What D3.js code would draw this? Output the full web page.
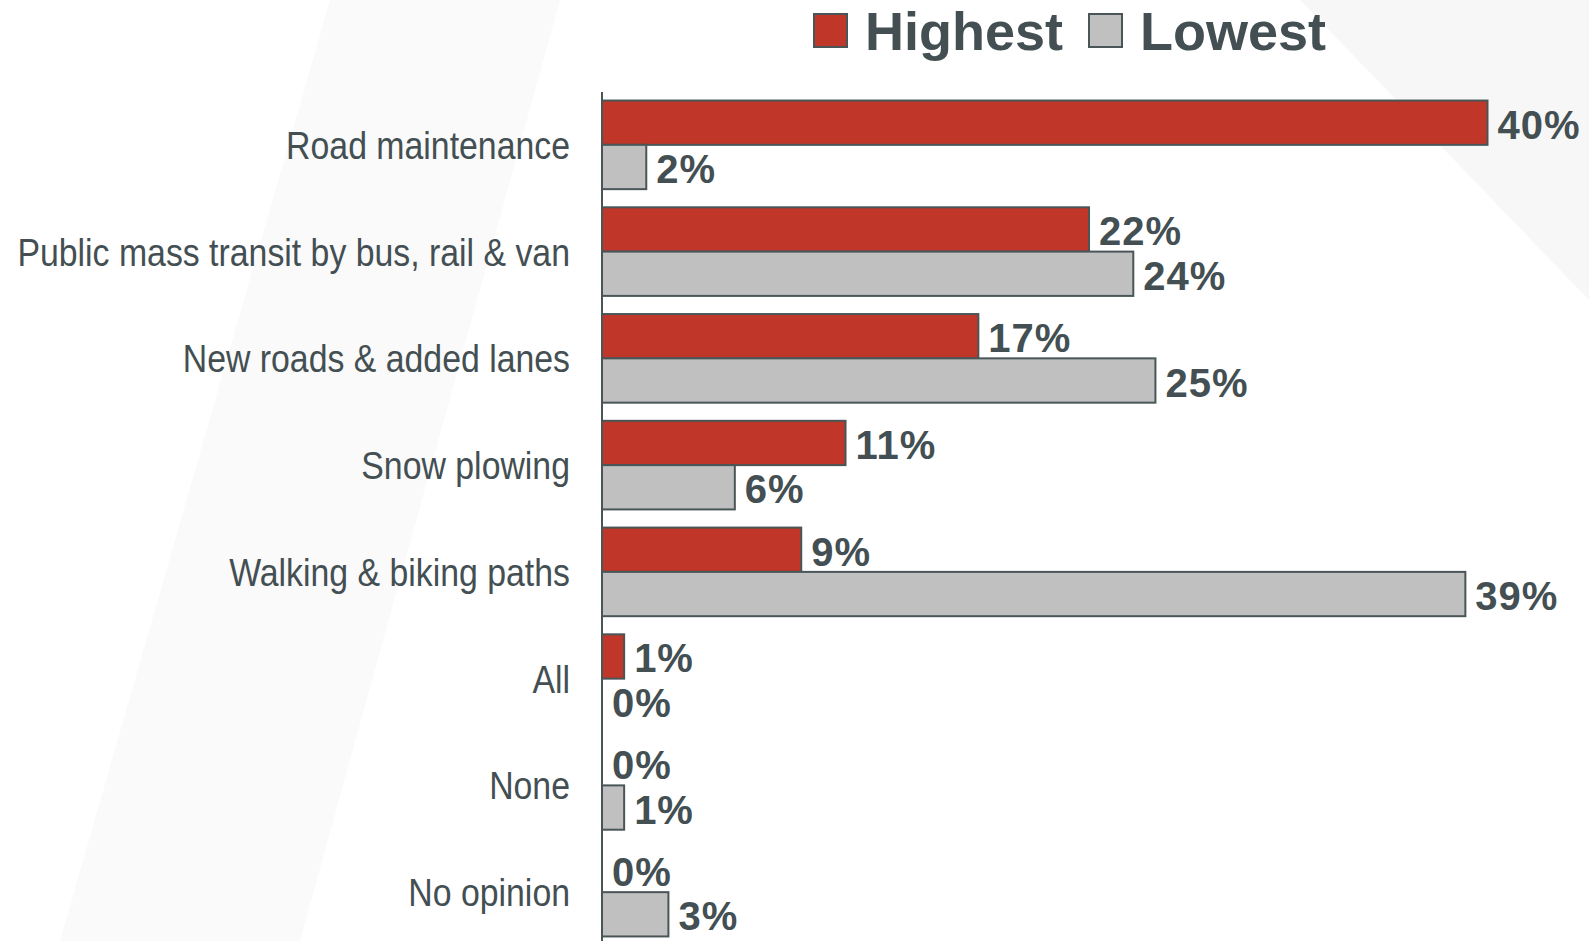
<!DOCTYPE html>
<html>
<head>
<meta charset="utf-8">
<script src="https://cdn.jsdelivr.net/npm/d3@7"></script>
<style>
  html, body { margin: 0; padding: 0; background: #fff; }
  svg { display: block; }
  .cat { font-family: "Liberation Sans", Arial, sans-serif; font-size: 38px; fill: #434f52; }
  .val { font-family: "Liberation Sans", Arial, sans-serif; font-weight: bold; font-size: 40px; letter-spacing: 1px; fill: #434f52; }
  .leg { font-family: "Liberation Sans", Arial, sans-serif; font-weight: bold; font-size: 54px; fill: #434f52; }
</style>
</head>
<body>
<svg width="1589" height="941"></svg>
<script>
// data
var categories = ["Road maintenance", "Public mass transit by bus, rail & van", "New roads & added lanes",
    "Snow plowing", "Walking & biking paths", "All", "None", "No opinion"];
var series = ["Highest", "Lowest"];
var highest = [40, 22, 17, 11, 9, 1, 0, 0];
var lowest = [2, 24, 25, 6, 39, 0, 1, 3];
var colors = ["#c0372a", "#c0c0c0"];

var svg = d3.select("svg"),
    width = +svg.attr("width"),
    height = +svg.attr("height");

// faint background swooshes
var bg = svg.append("g");
bg.append("path")
    .attr("d", "M60,941 L330,0 L560,0 L300,941 Z")
    .attr("fill", "#f7f7f7").attr("opacity", 0.6);
bg.append("path")
    .attr("d", "M1300,0 L1589,0 L1589,300 Z")
    .attr("fill", "#f0f0f0").attr("opacity", 0.5);

var rows = categories.map(function (c, i) {
    return {
        cat: c,
        values: [{ s: series[0], v: highest[i], c: colors[0] }, { s: series[1], v: lowest[i], c: colors[1] }]
    };
});

var x = d3.scaleLinear()
    .domain([0, 40])
    .range([602, 1487.5]);

var y = d3.scaleBand()
    .domain(categories)
    .range([92, 945])
    .paddingInner(0.17)
    .paddingOuter(0.08);

var y1 = d3.scaleBand()
    .domain(series)
    .range([0, y.bandwidth()]);

var g = svg.append("g");

var group = g.selectAll("g.row")
    .data(rows)
    .enter()
    .append("g")
    .attr("class", "row")
    .attr("transform", function (d) { return "translate(0," + y(d.cat) + ")"; });

group.selectAll("rect")
    .data(function (d) { return d.values.filter(function (e) { return e.v > 0; }); })
    .enter()
    .append("rect")
    .attr("x", x(0))
    .attr("y", function (d) { return y1(d.s); })
    .attr("width", function (d) { return x(d.v) - x(0); })
    .attr("height", y1.bandwidth())
    .attr("fill", function (d) { return d.c; })
    .attr("stroke", "#4a5558")
    .attr("stroke-width", 2);

group.selectAll("text.val")
    .data(function (d) { return d.values; })
    .enter()
    .append("text")
    .attr("class", "val")
    .attr("x", function (d) { return x(d.v) + 10; })
    .attr("y", function (d) { return y1(d.s) + y1.bandwidth() / 2 + 16; })
    .text(function (d) { return d.v + "%"; });

// category labels (narrow face: squeeze horizontally)
var sx = 0.89;
g.selectAll("text.cat")
    .data(categories)
    .enter()
    .append("text")
    .attr("class", "cat")
    .attr("text-anchor", "end")
    .attr("transform", function (d) {
        return "translate(570," + (y(d) + y.bandwidth() / 2 + 14) + ") scale(" + sx + ",1)";
    })
    .text(function (d) { return d; });

// axis line
g.append("line")
    .attr("x1", x(0)).attr("x2", x(0))
    .attr("y1", 92).attr("y2", height)
    .attr("stroke", "#4a5558")
    .attr("stroke-width", 2);

// legend
var legX = [814, 1089];
var legend = svg.append("g")
    .selectAll("g")
    .data(series)
    .enter()
    .append("g")
    .attr("transform", function (d, i) { return "translate(" + legX[i] + ",14)"; });

legend.append("rect")
    .attr("width", 33)
    .attr("height", 33)
    .attr("fill", function (d, i) { return colors[i]; })
    .attr("stroke", "#4a5558")
    .attr("stroke-width", 2);

legend.append("text")
    .attr("class", "leg")
    .attr("x", 51)
    .attr("y", 36)
    .text(function (d) { return d; });
</script>
</body>
</html>
